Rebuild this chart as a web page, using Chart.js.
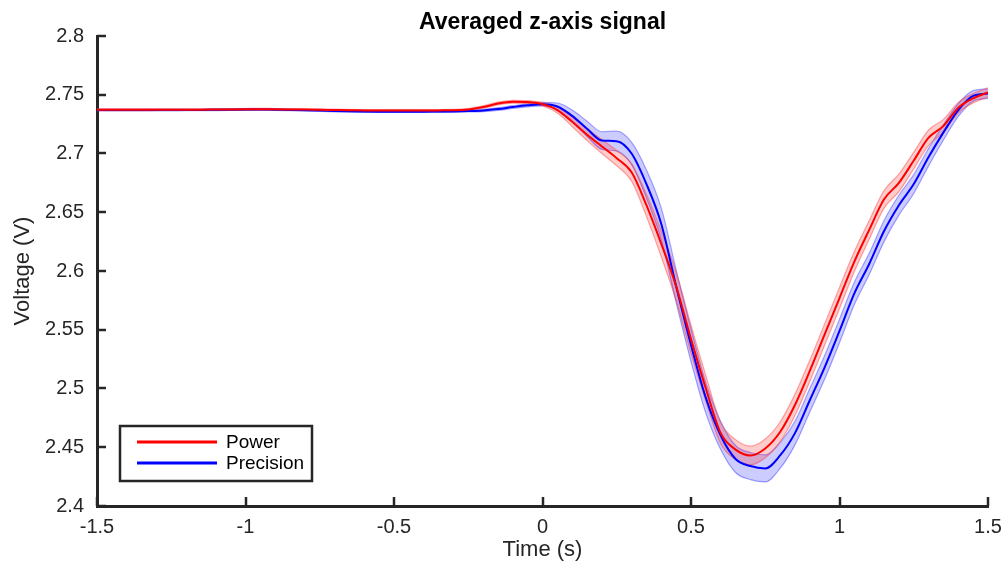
<!DOCTYPE html>
<html>
<head>
<meta charset="utf-8">
<script src="https://cdn.jsdelivr.net/npm/chart.js@4/dist/chart.umd.min.js"></script>
<style>
  body { margin: 0; background: #fff; }
  canvas { display: block; }
</style>
</head>
<body>
<canvas id="zChart" width="1005" height="562"></canvas>
<script>
// time axis (s)
const times = [
  -1.50, -1.45, -1.40, -1.35, -1.30, -1.25, -1.20, -1.15, -1.10, -1.05,
  -1.00, -0.95, -0.90, -0.85, -0.80, -0.75, -0.70, -0.65, -0.60, -0.55,
  -0.50, -0.45, -0.40, -0.35, -0.30, -0.25, -0.20, -0.15, -0.10, -0.05,
   0.00,  0.05,  0.10,  0.15,  0.20,  0.25,  0.30,  0.35,  0.40,  0.45,
   0.50,  0.55,  0.60,  0.65,  0.70,  0.75,  0.80,  0.85,  0.90,  0.95,
   1.00,  1.05,  1.10,  1.15,  1.20,  1.25,  1.30,  1.35,  1.40,  1.45,
   1.50
];

const powerMean = [
  2.7372, 2.7372, 2.7372, 2.7372, 2.7373, 2.7373, 2.7373, 2.7373, 2.7374, 2.7375,
  2.7376, 2.7377, 2.7376, 2.7375, 2.7374, 2.7372, 2.7370, 2.7368, 2.7367, 2.7366,
  2.7366, 2.7366, 2.7366, 2.7367, 2.7368, 2.7375, 2.7395, 2.7425, 2.7440, 2.7438,
  2.7420, 2.7370, 2.7270, 2.7160, 2.7060, 2.6960, 2.6840, 2.6560, 2.6230, 2.5870,
  2.5420, 2.5000, 2.4620, 2.4480, 2.4430, 2.4490, 2.4630, 2.4860, 2.5150, 2.5460,
  2.5770, 2.6080, 2.6350, 2.6610, 2.6750, 2.6940, 2.7135, 2.7235, 2.7390, 2.7470,
  2.7520
];
const powerSd = [
  0.0007, 0.0007, 0.0007, 0.0007, 0.0007, 0.0007, 0.0007, 0.0007, 0.0007, 0.0007,
  0.0007, 0.0007, 0.0007, 0.0007, 0.0007, 0.0007, 0.0007, 0.0007, 0.0007, 0.0007,
  0.0007, 0.0007, 0.0007, 0.0007, 0.0007, 0.0008, 0.0010, 0.0012, 0.0012, 0.0012,
  0.0015, 0.0025, 0.0040, 0.0050, 0.0060, 0.0065, 0.0075, 0.0095, 0.0110, 0.0120,
  0.0120, 0.0110, 0.0090, 0.0085, 0.0080, 0.0080, 0.0085, 0.0090, 0.0090, 0.0090,
  0.0090, 0.0085, 0.0080, 0.0075, 0.0075, 0.0070, 0.0065, 0.0055, 0.0045, 0.0040,
  0.0040
];

const precisionMean = [
  2.7370, 2.7370, 2.7370, 2.7370, 2.7370, 2.7370, 2.7371, 2.7371, 2.7372, 2.7373,
  2.7374, 2.7375, 2.7373, 2.7371, 2.7369, 2.7366, 2.7362, 2.7359, 2.7357, 2.7356,
  2.7356, 2.7356, 2.7356, 2.7357, 2.7358, 2.7361, 2.7366, 2.7378, 2.7395, 2.7410,
  2.7420, 2.7400, 2.7320, 2.7210, 2.7110, 2.7105, 2.7000, 2.6740, 2.6400, 2.5870,
  2.5370, 2.4920, 2.4600, 2.4400, 2.4340, 2.4320, 2.4430, 2.4620, 2.4900, 2.5180,
  2.5490, 2.5810, 2.6060, 2.6340, 2.6560, 2.6740, 2.6970, 2.7180, 2.7370, 2.7490,
  2.7510
];
const precisionSd = [
  0.0007, 0.0007, 0.0007, 0.0007, 0.0007, 0.0007, 0.0007, 0.0007, 0.0007, 0.0007,
  0.0007, 0.0007, 0.0007, 0.0007, 0.0007, 0.0007, 0.0007, 0.0007, 0.0007, 0.0007,
  0.0007, 0.0007, 0.0007, 0.0007, 0.0007, 0.0008, 0.0010, 0.0012, 0.0012, 0.0013,
  0.0015, 0.0030, 0.0050, 0.0065, 0.0075, 0.0085, 0.0095, 0.0120, 0.0135, 0.0140,
  0.0140, 0.0130, 0.0120, 0.0115, 0.0115, 0.0115, 0.0110, 0.0100, 0.0100, 0.0100,
  0.0100, 0.0095, 0.0090, 0.0090, 0.0085, 0.0080, 0.0075, 0.0065, 0.0055, 0.0045,
  0.0040
];

const xTicks = [-1.5, -1, -0.5, 0, 0.5, 1, 1.5];
const yTicks = [2.4, 2.45, 2.5, 2.55, 2.6, 2.65, 2.7, 2.75, 2.8];

const FONT = "'Liberation Sans', Arial, Helvetica, sans-serif";
const AXIS = '#262626';

function pts(vals, sd, sign) {
  return times.map((t, i) => ({ x: t, y: vals[i] + (sd ? sign * sd[i] : 0) }));
}

// MATLAB style ticks pointing into the axes
const inwardTicks = {
  id: 'inwardTicks',
  afterDraw(chart) {
    const { ctx, chartArea, scales } = chart;
    ctx.save();
    ctx.strokeStyle = AXIS;
    ctx.lineWidth = 2.5;
    xTicks.forEach(v => {
      const px = Math.round(scales.x.getPixelForValue(v));
      ctx.beginPath();
      ctx.moveTo(px, chartArea.bottom);
      ctx.lineTo(px, chartArea.bottom - 9);
      ctx.stroke();
    });
    yTicks.forEach(v => {
      const py = Math.round(scales.y.getPixelForValue(v));
      ctx.beginPath();
      ctx.moveTo(chartArea.left, py);
      ctx.lineTo(chartArea.left + 9, py);
      ctx.stroke();
    });
    ctx.restore();
  }
};

// title centred over the axes, and the boxed legend at lower left
const decorations = {
  id: 'decorations',
  afterDraw(chart) {
    const { ctx, chartArea } = chart;
    ctx.save();
    ctx.fillStyle = '#000';
    ctx.font = 'bold 23px ' + FONT;
    ctx.textAlign = 'center';
    ctx.textBaseline = 'middle';
    ctx.fillText('Averaged z-axis signal', (chartArea.left + chartArea.right) / 2, 23);

    const bx = chartArea.left + 23, by = chartArea.bottom - 80;
    const bw = 192, bh = 55;
    ctx.fillStyle = '#fff';
    ctx.fillRect(bx, by, bw, bh);
    ctx.strokeStyle = AXIS;
    ctx.lineWidth = 2.5;
    ctx.strokeRect(bx, by, bw, bh);

    const items = chart.data.datasets.filter(d => d.inLegend);
    ctx.font = '19px ' + FONT;
    ctx.textAlign = 'left';
    items.forEach((d, i) => {
      const ly = by + 16 + i * 21;
      ctx.strokeStyle = d.borderColor;
      ctx.lineWidth = 3;
      ctx.beginPath();
      ctx.moveTo(bx + 17, ly);
      ctx.lineTo(bx + 97, ly);
      ctx.stroke();
      ctx.fillStyle = '#000';
      ctx.fillText(d.label, bx + 106, ly + 1);
    });
    ctx.restore();
  }
};

const ctx = document.getElementById('zChart').getContext('2d');
const zChart = new Chart(ctx, {
  type: 'line',
  data: {
    datasets: [
      { label: 'Power', inLegend: true, data: pts(powerMean), borderColor: '#ff0000', borderWidth: 2, fill: false },
      { label: 'Precision', inLegend: true, data: pts(precisionMean), borderColor: '#0000ff', borderWidth: 2, fill: false },
      { label: 'Power upper', data: pts(powerMean, powerSd, 1), borderColor: 'rgba(255,60,60,0.45)', borderWidth: 1.2,
        backgroundColor: 'rgba(255,0,0,0.2)', fill: '+1' },
      { label: 'Power lower', data: pts(powerMean, powerSd, -1), borderColor: 'rgba(255,60,60,0.45)', borderWidth: 1.2, fill: false },
      { label: 'Precision upper', data: pts(precisionMean, precisionSd, 1), borderColor: 'rgba(60,60,255,0.45)', borderWidth: 1.2,
        backgroundColor: 'rgba(0,0,255,0.2)', fill: '+1' },
      { label: 'Precision lower', data: pts(precisionMean, precisionSd, -1), borderColor: 'rgba(60,60,255,0.45)', borderWidth: 1.2, fill: false }
    ]
  },
  options: {
    responsive: false,
    devicePixelRatio: 1,
    animation: false,
    layout: { padding: { top: 36, right: 17, left: 0, bottom: 0 } },
    elements: {
      point: { radius: 0 },
      line: { cubicInterpolationMode: 'monotone' }
    },
    plugins: {
      legend: { display: false },
      title: { display: false },
      tooltip: { enabled: false }
    },
    scales: {
      x: {
        type: 'linear',
        min: -1.5,
        max: 1.5,
        afterBuildTicks: s => { s.ticks = xTicks.map(v => ({ value: v })); },
        afterFit: s => { s.height = 56; },
        grid: { display: false },
        border: { display: true, color: AXIS, width: 3 },
        ticks: {
          color: AXIS, padding: 1, maxRotation: 0,
          font: { family: FONT, size: 20 },
          callback: v => String(+v.toFixed(2))
        },
        title: {
          display: true, text: 'Time (s)', color: AXIS,
          font: { family: FONT, size: 22 }, padding: { top: 0, bottom: -1 }
        }
      },
      y: {
        min: 2.4,
        max: 2.8,
        afterBuildTicks: s => { s.ticks = yTicks.map(v => ({ value: v })); },
        afterFit: s => { s.width = 97; },
        grid: { display: false },
        border: { display: true, color: AXIS, width: 3 },
        ticks: {
          color: AXIS, padding: 5,
          font: { family: FONT, size: 20 },
          callback: v => String(+v.toFixed(2))
        },
        title: {
          display: true, text: 'Voltage (V)', color: AXIS,
          font: { family: FONT, size: 22 }, padding: { top: 10, bottom: 0 }
        }
      }
    }
  },
  plugins: [inwardTicks, decorations]
});
</script>
</body>
</html>
